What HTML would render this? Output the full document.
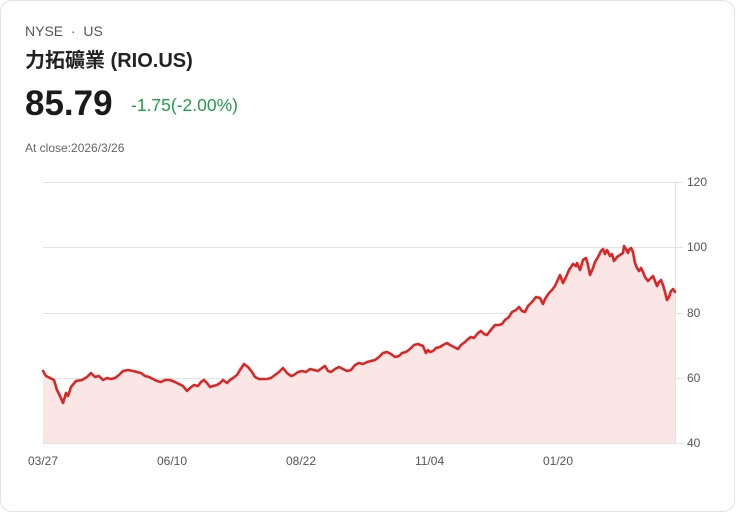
<!DOCTYPE html>
<html><head><meta charset="utf-8"><style>
html,body{margin:0;padding:0;background:#fff;}
body{width:736px;height:513px;position:relative;overflow:hidden;font-family:"Liberation Sans","Noto Sans CJK TC",sans-serif;}
.card{position:absolute;left:0;top:0;width:733px;height:510px;border:1px solid #dfe3ea;border-radius:12px;box-sizing:content-box;}
.t{position:absolute;white-space:nowrap;}
</style></head><body>
<div class="card"></div>
<div class="t" style="left:25px;top:23px;font-size:14px;color:#555;">NYSE &nbsp;·&nbsp; US</div>
<div class="t" style="left:25px;top:44px;font-size:20px;font-weight:bold;color:#222;">力拓礦業 (RIO.US)</div>
<div class="t" style="left:25px;top:84px;font-size:35px;font-weight:bold;color:#1a1a1a;">85.79</div>
<div class="t" style="left:131px;top:95px;font-size:17.5px;color:#1f9d4a;">-1.75(-2.00%)</div>
<div class="t" style="left:25px;top:141px;font-size:12px;color:#666;">At close:2026/3/26</div>
<svg width="736" height="513" style="position:absolute;left:0;top:0">
<g stroke="#e2e2e2" stroke-width="1">
<line x1="43" y1="182.5" x2="683" y2="182.5"/>
<line x1="43" y1="247.5" x2="683" y2="247.5"/>
<line x1="43" y1="313.5" x2="683" y2="313.5"/>
<line x1="43" y1="378.5" x2="683" y2="378.5"/>
<line x1="43" y1="443.5" x2="683" y2="443.5"/>
<line x1="675.5" y1="182" x2="675.5" y2="443"/>
</g>
<g font-size="12" fill="#555" font-family="Liberation Sans,sans-serif">
<text x="687" y="186">120</text><text x="687" y="251">100</text><text x="687" y="317">80</text><text x="687" y="382">60</text><text x="687" y="447">40</text>
<text x="28" y="465">03/27</text><text x="157" y="465">06/10</text><text x="286" y="465">08/22</text><text x="415" y="465">11/04</text><text x="543" y="465">01/20</text>
</g>
<polygon fill="#fbe6e6" points="43,443 43,371 46,376 50,378 54,380 57,390 60,396 63,403 66,393 68,396 71,387 76,381 82,380 87,377 91,373 95,377 99,376 103,380 107,378 111,379 115,378 119,375 123,371 128,370 133,371 137,372 141,373 145,376 149,377 153,379 157,381 161,382 165,380 170,380 175,382 179,384 183,386 187,391 190,388 194,385 198,386 201,382 204,380 207,383 210,387 213,386 217,385 220,383 223,380 227,383 230,380 233,378 237,375 240,370 244,364 248,367 252,372 255,377 259,379 263,379 267,379 271,378 275,375 279,372 283,368 287,373 291,376 294,375 298,372 302,371 306,372 310,369 314,370 318,371 322,368 325,366 328,371 331,372 335,369 339,367 343,369 347,371 351,370 355,365 359,363 363,364 367,362 371,361 375,360 379,357 383,353 387,352 391,354 395,357 399,356 402,353 406,352 410,349 414,345 418,344 423,346 426,353 428,350 430,352 433,351 436,348 440,347 443,345 447,343 450,345 454,347 458,349 461,345 465,342 468,339 471,337 474,338 478,333 481,331 484,334 487,335 490,331 495,325 499,325 502,324 505,320 509,317 512,312 516,310 519,307 522,311 525,312 528,306 532,302 536,297 540,298 543,304 545,299 549,293 552,290 555,286 560,275 563,283 566,277 569,270 573,264 576,266 577,263 580,270 583,260 586,258 588,265 590,275 593,268 595,262 598,257 601,251 603,249 605,254 607,250 610,256 612,254 614,261 617,257 620,255 623,253 624,246 626,249 628,253 629,250 631,248 633,252 635,263 637,268 639,271 641,268 643,272 645,277 648,281 651,278 653,276 655,281 657,286 659,282 661,280 663,285 665,292 667,300 669,297 671,291 673,289 675,292 675,443"/>
<polyline fill="none" stroke="#dc2626" stroke-width="2.6" stroke-linejoin="round" stroke-linecap="round" points="43,371 46,376 50,378 54,380 57,390 60,396 63,403 66,393 68,396 71,387 76,381 82,380 87,377 91,373 95,377 99,376 103,380 107,378 111,379 115,378 119,375 123,371 128,370 133,371 137,372 141,373 145,376 149,377 153,379 157,381 161,382 165,380 170,380 175,382 179,384 183,386 187,391 190,388 194,385 198,386 201,382 204,380 207,383 210,387 213,386 217,385 220,383 223,380 227,383 230,380 233,378 237,375 240,370 244,364 248,367 252,372 255,377 259,379 263,379 267,379 271,378 275,375 279,372 283,368 287,373 291,376 294,375 298,372 302,371 306,372 310,369 314,370 318,371 322,368 325,366 328,371 331,372 335,369 339,367 343,369 347,371 351,370 355,365 359,363 363,364 367,362 371,361 375,360 379,357 383,353 387,352 391,354 395,357 399,356 402,353 406,352 410,349 414,345 418,344 423,346 426,353 428,350 430,352 433,351 436,348 440,347 443,345 447,343 450,345 454,347 458,349 461,345 465,342 468,339 471,337 474,338 478,333 481,331 484,334 487,335 490,331 495,325 499,325 502,324 505,320 509,317 512,312 516,310 519,307 522,311 525,312 528,306 532,302 536,297 540,298 543,304 545,299 549,293 552,290 555,286 560,275 563,283 566,277 569,270 573,264 576,266 577,263 580,270 583,260 586,258 588,265 590,275 593,268 595,262 598,257 601,251 603,249 605,254 607,250 610,256 612,254 614,261 617,257 620,255 623,253 624,246 626,249 628,253 629,250 631,248 633,252 635,263 637,268 639,271 641,268 643,272 645,277 648,281 651,278 653,276 655,281 657,286 659,282 661,280 663,285 665,292 667,300 669,297 671,291 673,289 675,292"/>
</svg>
</body></html>
